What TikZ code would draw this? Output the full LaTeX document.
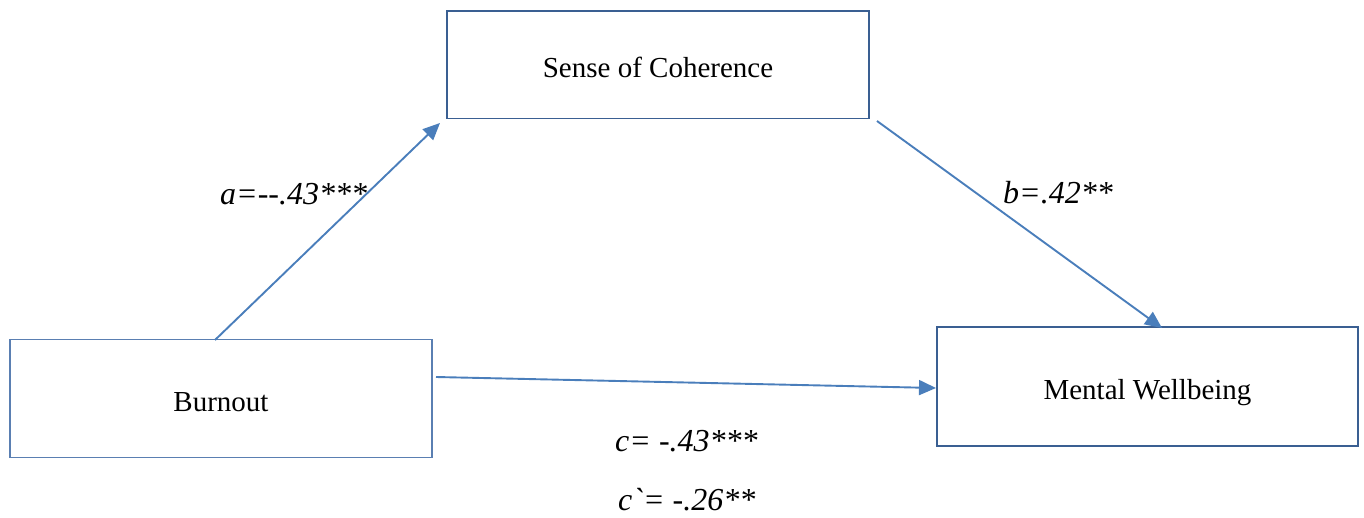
\documentclass[tikz,border=0pt]{standalone}
\usepackage{fontspec}
\setmainfont{Liberation Serif}
\usetikzlibrary{arrows.meta}
\definecolor{boxblue}{HTML}{3A5F92}
\definecolor{boxblue2}{HTML}{5A7FB2}
\definecolor{arrowblue}{HTML}{4A7EBB}
\tikzset{
  varbox/.style={draw=boxblue, line width=1.8pt, minimum width=422pt, inner sep=0pt, text height=26pt, text depth=0pt, font=\fontsize{29}{34}\selectfont},
  path arrow/.style={draw=arrowblue, line width=1.9pt, -{Triangle[length=17pt,width=15pt]}},
  coef/.style={font=\fontsize{32}{38}\selectfont\itshape, inner sep=0pt, anchor=base west}
}
\begin{document}
\begin{tikzpicture}[x=1pt,y=-1pt]
\useasboundingbox (0,0) rectangle (1364,518);
\node[varbox, minimum height=107.5pt] (soc) at (658,64.75) {Sense of Coherence};
\node[varbox, draw=boxblue2, line width=1.4pt, minimum height=118pt] (burn) at (221,398.75) {Burnout};
\node[varbox, minimum width=421pt, minimum height=118.5pt] (mw) at (1147.5,386.5) {Mental Wellbeing};
\coordinate (aS) at (215,340);
\coordinate (aE) at (440,123);
\coordinate (bS) at (877,121);
\coordinate (bE) at (1162,328);
\coordinate (cS) at (436,377);
\coordinate (cE) at (936,388);
\draw[path arrow] (aS) -- (aE);
\draw[path arrow] (bS) -- (bE);
\draw[path arrow] (cS) -- (cE);
\node[coef] (la) at (220,205) {a=-{}-.43***};
\node[coef] (lb) at (1003,204) {b=.42**};
\node[coef] (lc) at (615,451) {c= -.43***};
\node[coef] (lc2) at (618,510) {c\textasciigrave= -.26**};
\end{tikzpicture}
\end{document}
